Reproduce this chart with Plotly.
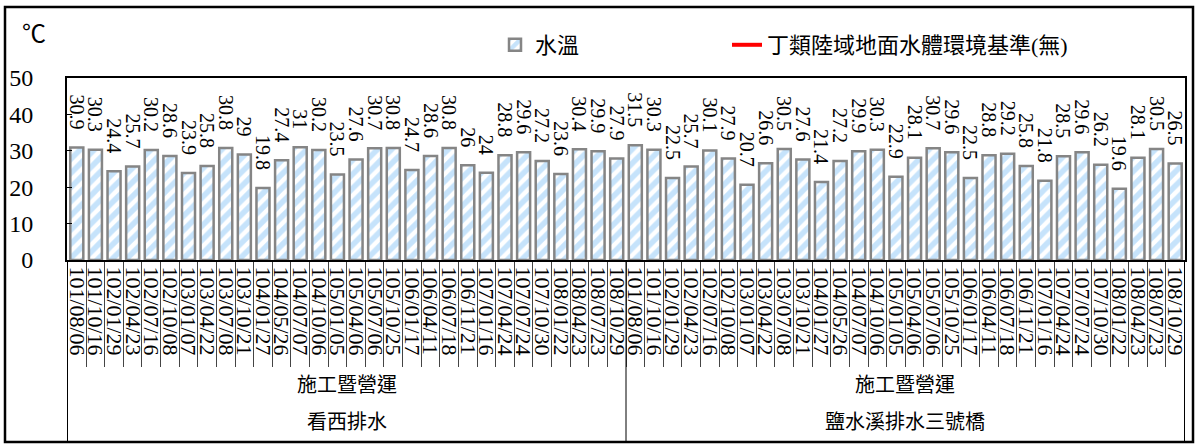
import plotly.graph_objects as go

# 監測日期 (民國年/月/日)
dates = [
    "101/08/06", "101/10/16", "102/01/29", "102/04/23", "102/07/16", "102/10/08",
    "103/01/07", "103/04/22", "103/07/08", "103/10/21", "104/01/27", "104/05/26",
    "104/07/07", "104/10/06", "105/01/05", "105/04/06", "105/07/06", "105/10/25",
    "106/01/17", "106/04/11", "106/07/18", "106/11/21", "107/01/16", "107/04/24",
    "107/07/24", "107/10/30", "108/01/22", "108/04/23", "108/07/23", "108/10/29",
]
stations = ["看西排水", "鹽水溪排水三號橋"]
phase = "施工暨營運"

temp_kanxi = [30.9, 30.3, 24.4, 25.7, 30.2, 28.6, 23.9, 25.8, 30.8, 29, 19.8, 27.4,
              31, 30.2, 23.5, 27.6, 30.7, 30.8, 24.7, 28.6, 30.8, 26, 24, 28.8,
              29.6, 27.2, 23.6, 30.4, 29.9, 27.9]
temp_yanshui = [31.5, 30.3, 22.5, 25.7, 30.1, 27.9, 20.7, 26.6, 30.5, 27.6, 21.4, 27.2,
                29.9, 30.3, 22.9, 28.1, 30.7, 29.6, 22.5, 28.8, 29.2, 25.8, 21.8, 28.5,
                29.6, 26.2, 19.6, 28.1, 30.5, 26.5]

W, H = 1198, 447
ML, MR, MT, MB = 67, 13, 78, 187
PW, PH = W - ML - MR, H - MT - MB


def py(pix):
    # pixel row -> paper y
    return (H - MB - pix) / PH


def px(pix):
    return (pix - ML) / PW


# second group gets an invisible suffix so categories stay unique
cats = dates + [d + "\u200b" for d in dates]
vals = temp_kanxi + temp_yanshui
labels = [f"{v:g}" + "\u00a0" * 3 for v in vals]

serif = "Liberation Serif, Times New Roman, Noto Sans CJK TC, serif"

fig = go.Figure()
fig.add_trace(go.Bar(
    x=cats, y=vals, name="水溫" + "\u00a0" * 26,
    text=labels, textposition="outside", textangle=90,
    constraintext="none", cliponaxis=False,
    textfont=dict(size=20, color="black", family=serif),
    marker=dict(
        color="white",
        line=dict(color="#858585", width=2.5),
        pattern=dict(shape="/", fgcolor="#8ec8f8", bgcolor="white", size=10, solidity=0.55),
    ),
))
fig.add_trace(go.Scatter(
    x=[None], y=[None], mode="lines", name="丁類陸域地面水體環境基準(無)",
    line=dict(color="#ff0000", width=4),
))

shapes = []
# outer chart frame
shapes.append(dict(type="rect", xref="paper", yref="paper",
                   x0=px(5), x1=px(1193), y0=py(442), y1=py(7),
                   line=dict(color="black", width=2.5), layer="below"))
# group separators
n = len(dates)
for b in [-0.5, n - 0.5, 2 * n - 0.5]:
    shapes.append(dict(type="line", xref="x", yref="paper", x0=b, x1=b,
                       y0=0, y1=py(441), line=dict(color="black", width=1)))

annotations = [
    dict(text="℃", xref="paper", yref="paper", x=px(34), y=py(34),
         xanchor="center", yanchor="middle",
         showarrow=False, font=dict(size=24, family=serif, color="black")),
]
for g, st in enumerate(stations):
    mid = g * n + (n - 1) / 2
    annotations.append(dict(text=phase, xref="x", yref="paper", x=mid, y=py(385),
                            xanchor="center", yanchor="middle", showarrow=False,
                            font=dict(size=20, family=serif, color="black")))
    annotations.append(dict(text=st, xref="x", yref="paper", x=mid, y=py(422),
                            xanchor="center", yanchor="middle", showarrow=False,
                            font=dict(size=20, family=serif, color="black")))

fig.update_layout(
    width=W, height=H,
    margin=dict(l=ML, r=MR, t=MT, b=MB, autoexpand=False),
    paper_bgcolor="white", plot_bgcolor="white",
    bargap=0.3,
    font=dict(family=serif, color="black"),
    showlegend=True,
    legend=dict(orientation="h", x=px(495), y=py(45), xanchor="left", yanchor="middle",
                font=dict(size=22, family=serif), bgcolor="rgba(0,0,0,0)"),
    shapes=shapes,
    annotations=annotations,
)
fig.update_xaxes(
    type="category", tickangle=90, tickson="boundaries", dtick=1,
    ticks="outside", ticklen=105, tickcolor="#444", tickwidth=1,
    tickfont=dict(size=22, family=serif),
    showline=True, linecolor="black", linewidth=2, mirror=True,
    showgrid=False, automargin=False,
)
fig.update_yaxes(
    range=[0, 50], dtick=10, ticks="inside", ticklen=5, tickcolor="black",
    tickfont=dict(size=24, family=serif), ticklabelstandoff=27,
    showline=True, linecolor="black", linewidth=2, mirror=True,
    showgrid=False, zeroline=False, automargin=False,
)

fig.write_html("out.html", config={"displayModeBar": False},
               post_script="document.body.style.margin='0px';")
